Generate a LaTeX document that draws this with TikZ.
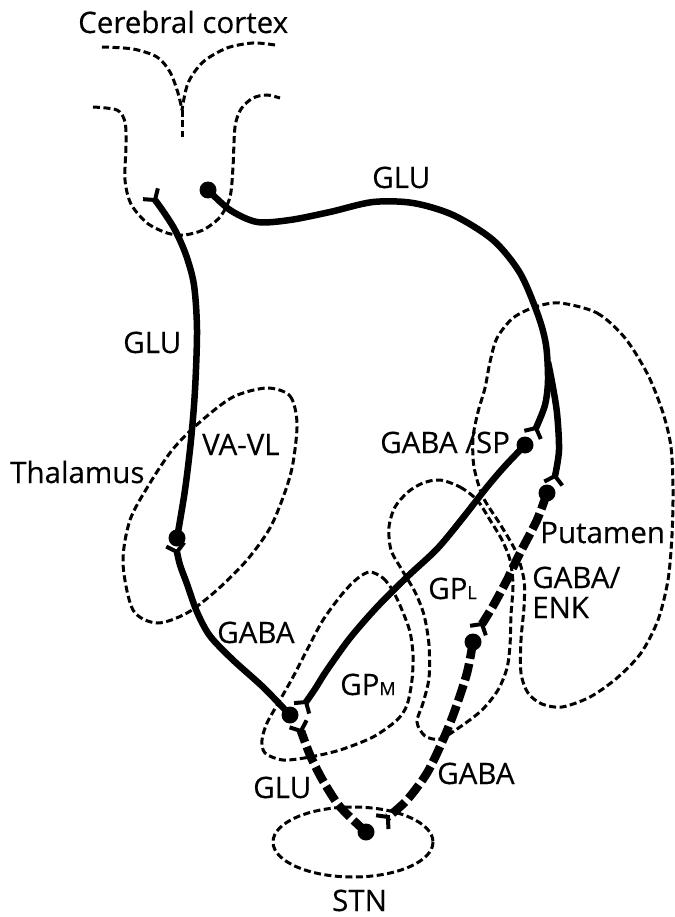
\documentclass[tikz,border=0pt]{standalone}
\usepackage{fontspec}
\setmainfont[FakeBold=0.35,AutoFakeBold=0.35]{Open Sans}
\usetikzlibrary{calc}
% Y-shaped synaptic ending at #1, the fibre arriving from #2
\newcommand{\synfork}[2]{%
  \draw[solid,line width=4pt] ($(#1)!12pt!130:(#2)$) -- (#1) -- ($(#1)!12pt!-130:(#2)$);}
\begin{document}
\begin{tikzpicture}[x=1pt,y=-1pt,
  outline/.style={line width=3pt, dash pattern=on 7pt off 3.5pt},
  fiber/.style={line width=6.5pt},
  dfiber/.style={line width=8.5pt, dash pattern=on 17pt off 5pt},
  soma/.style={circle,fill,inner sep=0pt,minimum size=17pt},
  lbl/.style={inner sep=0pt,anchor=base west,text depth=0pt,font=\fontsize{29.5}{30}\selectfont\bfseries},
]
\useasboundingbox (0,0) rectangle (674,917);

% ---------- regions (thin dashed outlines) ----------
% cerebral cortex: sulcus and cup
\draw[outline] plot[smooth] coordinates {(102,47) (133,49) (157,57) (170,72) (178,93) (182,110)};
\draw[outline] plot[smooth] coordinates {(275,45) (253,43) (227,48) (203,62) (188,83) (182,110)};
\draw[outline] (182,110) -- (182,137);
\draw[outline] plot[smooth] coordinates {(93,107) (117,110) (125,122) (126,145) (125,180) (131,204) (147,223) (167,233) (184,235) (203,230) (220,217) (230,197) (233,167) (235,127) (241,109) (253,98) (267,95) (280,98)};
% thalamus
\draw[outline] plot[smooth cycle] coordinates {(267,388) (290,396) (297,423) (293,463) (285,492) (270,528) (247,560) (217,590) (187,613) (157,623) (133,610) (123,563) (130,520) (150,483) (173,449) (200,422) (233,397)};
% globus pallidus, medial segment
\draw[outline] plot[smooth cycle] coordinates {(370,572) (383,578) (393,591) (402,610) (410,632) (413,655) (412,680) (407,705) (397,720) (373,737) (340,750) (310,757) (283,760) (265,753) (262,740) (267,723) (280,700) (293,677) (307,650) (323,620) (343,593) (358,578)};
% globus pallidus, lateral segment
\draw[outline] plot[smooth cycle] coordinates {(440,480) (460,487) (477,500) (490,520) (502,540) (510,560) (513,585) (511,615) (510,645) (507,668) (498,690) (482,710) (460,727) (440,739) (425,736) (417,722) (423,703) (429,678) (429,645) (424,615) (415,592) (402,570) (391,550) (389,527) (395,507) (408,492) (423,483)};
% putamen
\draw[outline] plot[smooth cycle] coordinates {(560,303) (597,313) (625,338) (648,375) (663,413) (671,447) (673,490) (672,535) (668,580) (658,620) (641,653) (617,678) (590,697) (562,707) (542,704) (528,693) (521,673) (521,640) (524,607) (524,580) (516,552) (500,524) (483,497) (474,467) (473,438) (478,412) (485,388) (490,362) (497,338) (513,318) (535,307)};
% subthalamic nucleus
\draw[outline] (353,842) ellipse [x radius=80, y radius=35];

% ---------- cell bodies and terminals ----------
\node[soma] (thD)   at (177,538) {};
\node[soma] (ctxD)  at (208,190) {};
\node[soma] (putD1) at (525,445) {};
\node[soma] (putD2) at (547,493) {};
\node[soma] (gpmD)  at (290,715) {};
\node[soma] (gplD)  at (473,642) {};
\node[soma] (stnD)  at (366,832) {};
\coordinate (ctxF)  at (155,200);
\coordinate (split) at (548,362);
\coordinate (putF1) at (536,428);
\coordinate (putF2) at (555,476);
\coordinate (gpmF1) at (306,702);
\coordinate (thF)   at (177,552);
\coordinate (gplF)  at (482,624);
\coordinate (stnF)  at (388,817);
\coordinate (gpmF2) at (301,731);

% ---------- pathways ----------
% thalamus -> cortex
\draw[fiber] plot[smooth] coordinates {(thD) (185,490) (191,440) (195,390) (197,330) (194,285) (186,255) (175,230) (163,211) (ctxF)};
\synfork{ctxF}{163,211}
% cortex -> putamen (two branches)
\draw[fiber] plot[smooth] coordinates {(ctxD) (230,210) (257,222) (290,220) (330,212) (373,202) (413,203) (453,215) (493,240) (520,273) (538,315) (546,345) (548,380) (545,405) (putF1)};
\synfork{putF1}{545,410}
\draw[fiber] plot[smooth] coordinates {(split) (552,382) (557,413) (559,450) (putF2)};
\synfork{putF2}{559,458}
% putamen -> GPm (direct)
\draw[fiber] plot[smooth] coordinates {(putD1) (505,466) (487,487) (462,519) (437,549) (407,577) (377,607) (350,638) (327,670) (315,689) (gpmF1)};
\synfork{gpmF1}{315,689}
% GPm -> thalamus
\draw[fiber] plot[smooth] coordinates {(gpmD) (263,687) (233,660) (210,636) (197,612) (187,584) (180,565) (thF)};
\synfork{thF}{180,565}
% indirect pathway
\draw[dfiber] plot[smooth] coordinates {(putD2) (537,520) (520,553) (507,580) (493,606) (gplF)};
\synfork{gplF}{493,606}
\draw[dfiber] plot[smooth] coordinates {(gplD) (467,673) (455,710) (443,740) (427,773) (407,800) (stnF)};
\synfork{stnF}{407,800}
\draw[dfiber] plot[smooth] coordinates {(stnD) (350,817) (337,803) (322,779) (310,755) (gpmF2)};
\synfork{gpmF2}{308,748}

% ---------- labels ----------
\node[lbl] (tCtx)  at (78,33)   {Cerebral cortex};
\node[lbl] (tGlu1) at (372,188) {GLU};
\node[lbl] (tGlu2) at (123,353) {GLU};
\node[lbl] (tVa)   at (202,455) {VA-VL};
\node[lbl] (tTh)   at (10,483)  {Thalamus};
\node[lbl] (tSp)   at (380,453) {GABA /SP};
\node[lbl] (tPut)  at (540,543) {Putamen};
\node[lbl] (tGpl)  at (428,599) {GP{\fontsize{18}{18}\selectfont L}};
\node[lbl] (tEnk1) at (532,588) {GABA/};
\node[lbl] (tEnk2) at (532,618) {ENK};
\node[lbl] (tGaba) at (217,643) {GABA};
\node[lbl] (tGpm)  at (340,695) {GP{\fontsize{18}{18}\selectfont M}};
\node[lbl] (tGlu3) at (253,798) {GLU};
\node[lbl] (tGab2) at (437,784) {GABA};
\node[lbl] (tStn)  at (332,911) {STN};
\end{tikzpicture}
\end{document}
